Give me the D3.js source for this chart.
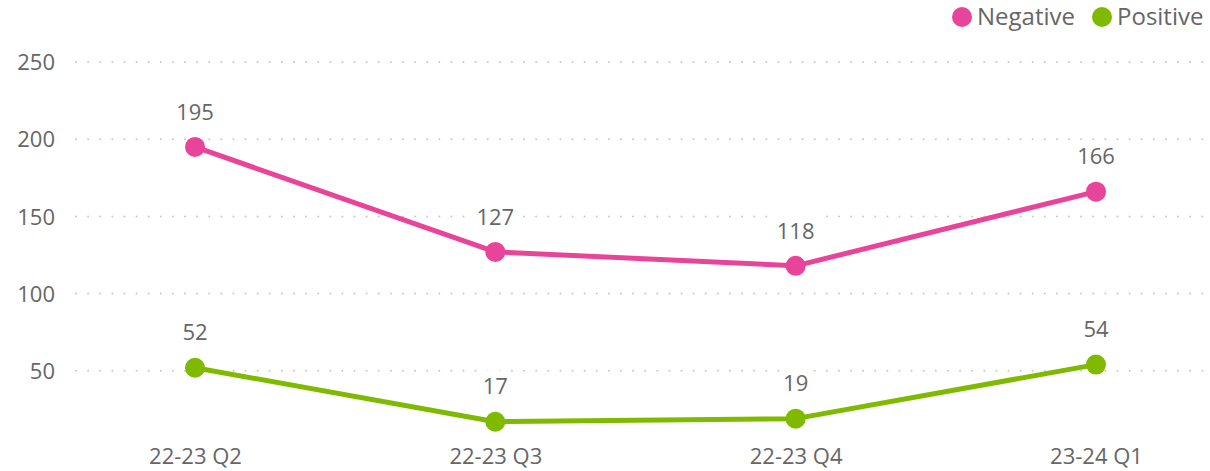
<!DOCTYPE html>
<html><head><meta charset="utf-8">
<script src="https://cdn.jsdelivr.net/npm/d3@7"></script>
<style>body{margin:0;background:#fff;} text{font-family:"Open Sans","Segoe UI",sans-serif;}</style>
</head><body>
<svg id="c" width="1210" height="471"></svg>
<script>
const categories = ["22-23 Q2","22-23 Q3","22-23 Q4","23-24 Q1"];
const negative = [195,127,118,166];
const positive = [52,17,19,54];
const yTicks = [50,100,150,200,250];
const seriesNames = ["Negative","Positive"];
const colors = ["#E8449A","#7FBA00"];

const svg = d3.select("#c");
const x = d3.scalePoint().domain(categories).range([195,1096]);
const y = d3.scaleLinear().domain([0,250]).range([448,62]);
const textColor = "#666666";

// gridlines
const grid = svg.append("g");
yTicks.forEach(t=>{
  grid.append("line").attr("x1",76).attr("x2",1205).attr("y1",y(t)).attr("y2",y(t))
    .attr("stroke","#c8c8c8").attr("stroke-width",2).attr("stroke-dasharray","0.01 12.1").attr("stroke-linecap","round");
});
// y axis
const yAxis = d3.axisLeft(y).tickValues(yTicks).tickSize(0).tickPadding(0);
const ya = svg.append("g").attr("transform","translate(55,0)").call(yAxis);
ya.select(".domain").remove();
ya.selectAll("text").attr("fill",textColor).style("font-size","22px").attr("dy","0.35em").style("font-family","'Open Sans',sans-serif");

// x axis
const xAxis = d3.axisBottom(x).tickSize(0).tickPadding(0);
const xa = svg.append("g").attr("transform","translate(0,456)").call(xAxis);
xa.select(".domain").remove();
xa.selectAll("text").attr("fill",textColor).style("font-size","22px").attr("dy","0.35em").style("font-family","'Open Sans',sans-serif");

const data = [negative, positive];
const line = d3.line().x((d,i)=>x(categories[i])).y(d=>y(d));
data.forEach((s,k)=>{
  svg.append("path").datum(s).attr("d",line).attr("fill","none").attr("stroke",colors[k]).attr("stroke-width",5).attr("stroke-linejoin","round");
  svg.selectAll(null).data(s).enter().append("circle")
    .attr("cx",(d,i)=>x(categories[i])).attr("cy",d=>y(d)).attr("r",10).attr("fill",colors[k]);
});
// labels with white bg
data.forEach((s,k)=>{
  s.forEach((d,i)=>{
    const g = svg.append("g");
    const t = g.append("text").attr("x",x(categories[i])).attr("y",y(d)-35).attr("dy","0.35em")
      .attr("text-anchor","middle").attr("fill",textColor).style("font-size","22px").text(d);
    const bb = t.node().getBBox();
    g.insert("rect","text").attr("x",bb.x-2).attr("y",bb.y).attr("width",bb.width+4).attr("height",bb.height).attr("fill","#fff");
  });
});
// legend
const leg = svg.append("g");
const legX = [962, 1102];
seriesNames.forEach((n,k)=>{
  leg.append("circle").attr("cx",legX[k]).attr("cy",17).attr("r",10).attr("fill",colors[k]);
  leg.append("text").attr("x",legX[k]+15).attr("y",17).attr("dy","0.35em").attr("fill",textColor).style("font-size","24px").text(n);
});
</script>
</body></html>
